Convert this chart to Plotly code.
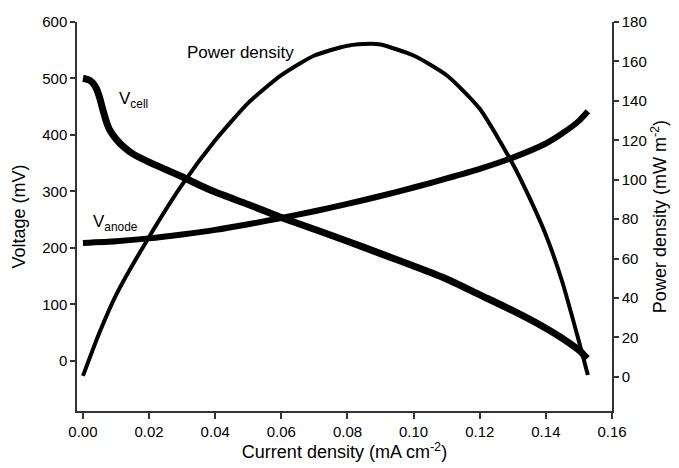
import plotly.graph_objects as go

# Current density (mA cm^-2) and cell voltage (mV)
vcell_x = [0.0, 0.001, 0.002, 0.003, 0.004, 0.005, 0.006, 0.007, 0.008, 0.010,
           0.0125, 0.015, 0.020, 0.025, 0.030, 0.035, 0.040, 0.050, 0.060, 0.070,
           0.080, 0.090, 0.100, 0.110, 0.120, 0.130, 0.140, 0.145, 0.150, 0.1525]
vcell_y = [500, 499, 497, 492, 483, 467, 445, 425, 410, 393,
           378, 367, 352, 339, 326, 312, 299, 277, 254, 233,
           212, 190, 168, 145, 117, 89, 58, 40, 19, 4]

# Anode voltage (mV)
vanode_x = [0.0, 0.01, 0.02, 0.03, 0.04, 0.05, 0.06, 0.07, 0.08, 0.09,
            0.10, 0.11, 0.12, 0.13, 0.14, 0.145, 0.15, 0.1527]
vanode_y = [209, 212, 217, 224, 232, 242, 253, 265, 278, 292,
            307, 323, 340, 360, 385, 403, 425, 442]

# Power density (mW m^-2)
power_x = [0.0, 0.005, 0.010, 0.020, 0.030, 0.040, 0.050, 0.060, 0.070, 0.080,
           0.087, 0.090, 0.100, 0.110, 0.120, 0.130, 0.135, 0.140, 0.145, 0.150,
           0.1527]
power_y = [0.5, 22.5, 41.5, 71.0, 97.5, 120.0, 139.0, 153.0, 163.0, 168.0,
           169.0, 168.6, 163.0, 153.0, 136.0, 108.0, 91.0, 72.0, 48.0, 18.0,
           1.0]

x_ticks = [0.00, 0.02, 0.04, 0.06, 0.08, 0.10, 0.12, 0.14, 0.16]
v_ticks = [0, 100, 200, 300, 400, 500, 600]
p_ticks = [0, 20, 40, 60, 80, 100, 120, 140, 160, 180]

FONT = "Liberation Sans, Arial, sans-serif"
AX = "#333333"

fig = go.Figure()
fig.add_trace(go.Scatter(x=vcell_x, y=vcell_y, mode="lines",
                         line=dict(color="black", width=7, shape="spline", smoothing=0.6),
                         showlegend=False))
fig.add_trace(go.Scatter(x=vanode_x, y=vanode_y, mode="lines",
                         line=dict(color="black", width=6, shape="spline", smoothing=0.6),
                         showlegend=False))
fig.add_trace(go.Scatter(x=power_x, y=power_y, mode="lines", yaxis="y2",
                         line=dict(color="black", width=4, shape="spline", smoothing=0.6),
                         showlegend=False))

fig.update_layout(
    width=679, height=468,
    margin=dict(l=77, r=65, t=22, b=57),
    paper_bgcolor="white", plot_bgcolor="white",
    font=dict(family=FONT, size=15, color="black"),
    xaxis=dict(range=[-0.0018, 0.16], tickvals=x_ticks,
               ticktext=[f"{v:.2f}" for v in x_ticks],
               showline=True, linecolor=AX, linewidth=1.5,
               ticks="outside", ticklen=6, tickcolor=AX, tickwidth=1.5,
               showgrid=False, zeroline=False,
               title=dict(text="Current density (mA cm<sup>-2</sup>)",
                          font=dict(size=18), standoff=4)),
    yaxis=dict(range=[-88.6, 600], tickvals=v_ticks,
               showline=True, linecolor=AX, linewidth=1.5,
               ticks="outside", ticklen=5, tickcolor=AX, tickwidth=1.5,
               showgrid=False, zeroline=False,
               title=dict(text="Voltage (mV)", font=dict(size=18), standoff=12)),
    yaxis2=dict(range=[-17.3, 180], tickvals=p_ticks, overlaying="y", side="right",
                showline=True, linecolor=AX, linewidth=1.5,
                ticks="outside", ticklen=5, tickcolor=AX, tickwidth=1.5,
                showgrid=False, zeroline=False,
                title=dict(text="Power density (mW m<sup>-2</sup>)",
                           font=dict(size=18), standoff=8)),
    annotations=[
        dict(text="Power density", x=0.031, y=546, xref="x", yref="y",
             xanchor="left", yanchor="middle", showarrow=False, font=dict(size=17)),
        dict(text="V<sub>cell</sub>", x=0.0103, y=462, xref="x", yref="y",
             xanchor="left", yanchor="middle", showarrow=False, font=dict(size=17)),
        dict(text="V<sub>anode</sub>", x=0.0025, y=245, xref="x", yref="y",
             xanchor="left", yanchor="middle", showarrow=False, font=dict(size=17)),
    ],
)

fig.write_html("out.html")
